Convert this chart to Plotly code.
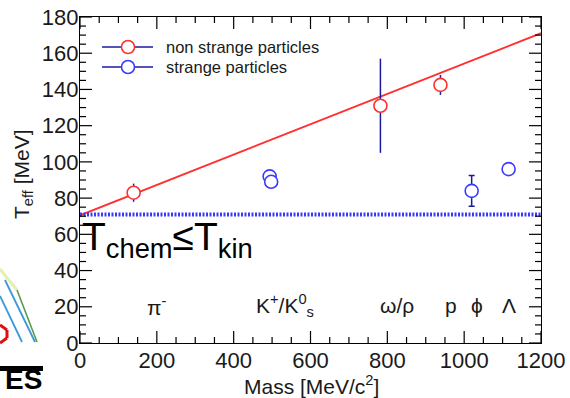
import plotly.graph_objects as go

# Non strange particles: mass [MeV/c^2], effective temperature [MeV], error
ns_mass = [139.6, 782.0, 938.3]
ns_teff = [83.0, 131.0, 142.5]
ns_err = [5.0, 26.0, 5.5]

# Strange particles (K+, K0s, phi, Lambda)
s_mass = [493.7, 497.6, 1019.5, 1115.7]
s_teff = [92.0, 89.0, 84.0, 96.0]
s_err = [0.0, 0.0, 8.5, 0.0]

# Linear fit to the non strange particles
fit_intercept = 70.5
fit_slope = 0.0838
fit_range = [0.0, 1200.0]

# Chemical freeze-out temperature
t_chem = 71.0

# Particle labels along the bottom
particle_labels = ["π<sup>-</sup>", "K<sup>+</sup>/K<sup>0</sup><sub>s</sub>", "ω/ρ", "p", "ϕ", "Λ"]
particle_label_x = [200, 534, 825, 966, 1033, 1117]
particle_label_y = 20.5

# Axis ranges and tick spacing
x_range, x_major, x_minor = [0, 1200], 200, 50
y_range, y_major, y_minor = [0, 180], 20, 5

RED = "#ff3030"
BLUE = "#3a3aff"
NAVY = "#1a1aa0"
FONT = "Liberation Sans, Arial, sans-serif"
MAJOR_LEN, MINOR_LEN = 12, 6

# plot area in pixels (for decorations placed outside the axes)
L, R, T, B = 80, 541, 17, 343


def px_x(px):
    return (px - L) / (R - L)


def px_y(py):
    return (B - py) / (B - T)


fig = go.Figure()

# fit line
fig.add_trace(go.Scatter(
    x=fit_range,
    y=[fit_intercept + fit_slope * m for m in fit_range],
    mode="lines", line=dict(color=RED, width=1.8),
    showlegend=False, hoverinfo="skip",
))

# T_chem band
fig.add_trace(go.Scatter(
    x=fit_range, y=[t_chem, t_chem],
    mode="lines", line=dict(color=BLUE, width=4, dash="2px,1.5px"),
    showlegend=False, hoverinfo="skip",
))

fig.add_trace(go.Scatter(
    x=ns_mass, y=ns_teff, mode="markers",
    marker=dict(symbol="circle", size=13, color="white",
                line=dict(color=RED, width=1.6)),
    error_y=dict(type="data", array=ns_err, color=NAVY, thickness=1.5, width=0),
    name="non strange particles", showlegend=False,
))

fig.add_trace(go.Scatter(
    x=s_mass, y=s_teff, mode="markers",
    marker=dict(symbol="circle", size=13, color="white",
                line=dict(color=BLUE, width=1.6)),
    error_y=dict(type="data", array=s_err, color=NAVY, thickness=1.5, width=3),
    name="strange particles", showlegend=False,
))

fig.update_layout(
    xaxis=dict(
        range=x_range, tickmode="linear", tick0=0, dtick=x_major,
        showline=True, linecolor="black", linewidth=1.3, mirror=True,
        ticks="", showgrid=False, zeroline=False, automargin=False,
        ticklabelstandoff=-3,
        tickfont=dict(family=FONT, size=22, color="#1a1a1a"),
    ),
    yaxis=dict(
        range=y_range, tickmode="linear", tick0=0, dtick=y_major,
        showline=True, linecolor="black", linewidth=1.3, mirror=True,
        ticks="", showgrid=False, zeroline=False, automargin=False,
        ticklabelstandoff=-4,
        tickfont=dict(family=FONT, size=22, color="#1a1a1a"),
    ),
)

shapes = []
annotations = []

# Inward-pointing ticks on all four sides, positioned on the axis scales
tick_line = dict(color="black", width=1.2)
for v in range(x_range[0], x_range[1] + 1, x_minor):
    ln = MAJOR_LEN if v % x_major == 0 else MINOR_LEN
    for anchor, sgn in ((0, 1), (1, -1)):
        shapes.append(dict(type="line", xref="x", yref="paper", x0=v, x1=v,
                           ysizemode="pixel", yanchor=anchor, y0=0, y1=sgn * ln,
                           line=tick_line))
for v in range(y_range[0], y_range[1] + 1, y_minor):
    ln = MAJOR_LEN if v % y_major == 0 else MINOR_LEN
    for anchor, sgn in ((0, 1), (1, -1)):
        shapes.append(dict(type="line", xref="paper", yref="y", y0=v, y1=v,
                           xsizemode="pixel", xanchor=anchor, x0=0, x1=sgn * ln,
                           line=tick_line))

# Legend
legend_rows = [("non strange particles", RED, 47), ("strange particles", BLUE, 67)]
for text, col, py in legend_rows:
    shapes.append(dict(type="line", xref="paper", yref="paper",
                       x0=px_x(102), x1=px_x(153), y0=px_y(py), y1=px_y(py),
                       line=dict(color=NAVY, width=1.5)))
    shapes.append(dict(type="circle", xref="paper", yref="paper",
                       xsizemode="pixel", ysizemode="pixel",
                       xanchor=px_x(128), yanchor=px_y(py),
                       x0=-6.5, x1=6.5, y0=-6.5, y1=6.5,
                       fillcolor="white", line=dict(color=col, width=1.6)))
    annotations.append(dict(text=text, xref="paper", yref="paper",
                            x=px_x(164), y=px_y(py), xanchor="left", yanchor="middle",
                            showarrow=False,
                            font=dict(family=FONT, size=16.5, color="#1a1a1a")))

# Particle labels
for lab, xm in zip(particle_labels, particle_label_x):
    annotations.append(dict(text=lab, x=xm, y=particle_label_y, xref="x", yref="y",
                            showarrow=False, xanchor="center", yanchor="middle",
                            font=dict(family=FONT, size=21, color="#1a1a1a")))

# T_chem <= T_kin
annotations.append(dict(text="T<sub>chem</sub>≤T<sub>kin</sub>", x=px_x(80), y=px_y(239),
                        xref="paper", yref="paper", xanchor="left", yanchor="middle",
                        showarrow=False, font=dict(family=FONT, size=39, color="black")))

# Axis titles
annotations.append(dict(text="Mass [MeV/c<sup>2</sup>]", x=px_x(311), y=px_y(385),
                        xref="paper", yref="paper", xanchor="center", yanchor="middle",
                        showarrow=False, font=dict(family=FONT, size=21, color="#1a1a1a")))
annotations.append(dict(text="T<sub>eff</sub> [MeV]", x=px_x(23), y=px_y(174),
                        xref="paper", yref="paper", xanchor="center", yanchor="middle",
                        textangle=-90, showarrow=False,
                        font=dict(family=FONT, size=21, color="#1a1a1a")))

# Logo fragment in the lower left corner
logo_lines = [
    ((0, 269), (17, 290), "#e6eeb0", 3),
    ((17, 290), (37, 342), "#5a9a50", 1.6),
    ((0, 296), (22, 342), "#3a9ad8", 1.8),
    ((5, 280), (35, 342), "#3a9ad8", 1.8),
]
for (x0, y0), (x1, y1), col, w in logo_lines:
    shapes.append(dict(type="line", xref="paper", yref="paper",
                       x0=px_x(x0), y0=px_y(y0), x1=px_x(x1), y1=px_y(y1),
                       line=dict(color=col, width=w)))
red_pts = [(0, 325), (7, 330), (7, 338), (0, 343)]
for (x0, y0), (x1, y1) in zip(red_pts[:-1], red_pts[1:]):
    shapes.append(dict(type="line", xref="paper", yref="paper",
                       x0=px_x(x0), y0=px_y(y0), x1=px_x(x1), y1=px_y(y1),
                       line=dict(color="#e01010", width=3)))
shapes.append(dict(type="rect", xref="paper", yref="paper",
                   x0=px_x(0), x1=px_x(43), y0=px_y(371), y1=px_y(366),
                   fillcolor="black", line=dict(width=0)))
annotations.append(dict(text="<b>ES</b>", x=px_x(44), y=px_y(397), xref="paper", yref="paper",
                        xanchor="right", yanchor="bottom", showarrow=False,
                        font=dict(family=FONT, size=28, color="black")))

fig.update_layout(
    width=570, height=398,
    margin=dict(l=L, r=570 - R, t=T, b=398 - B),
    paper_bgcolor="white", plot_bgcolor="white",
    shapes=shapes, annotations=annotations,
    showlegend=False,
)

fig.write_html("out.html")
